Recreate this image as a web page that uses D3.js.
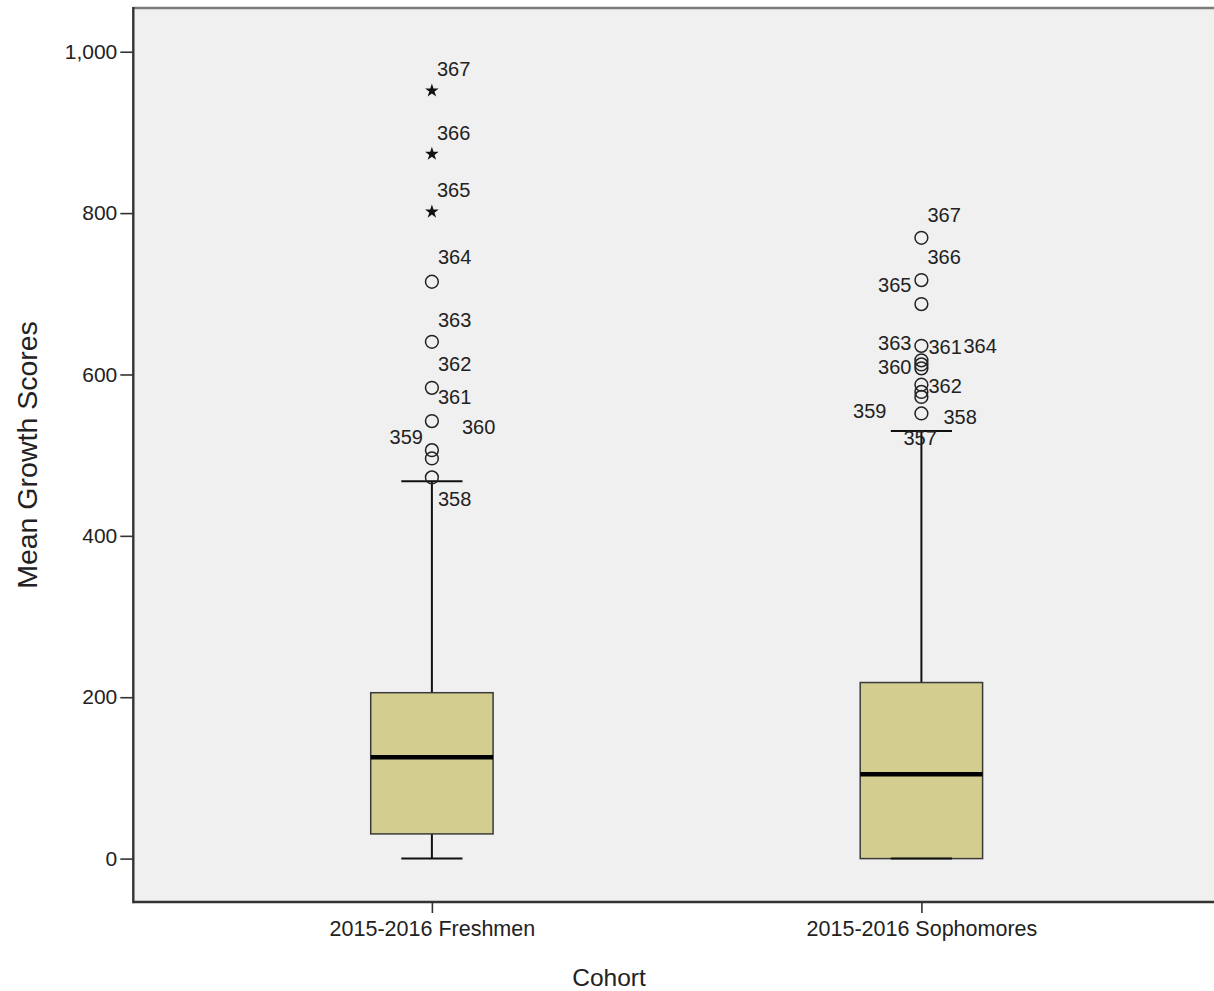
<!DOCTYPE html>
<html>
<head>
<meta charset="utf-8">
<script src="https://cdn.jsdelivr.net/npm/d3@7"></script>
<style>
  html, body { margin: 0; padding: 0; background: #ffffff; }
  svg { display: block; }
  text { font-family: "Liberation Sans", Arial, sans-serif; fill: #222; }
</style>
</head>
<body>
<svg id="chart" width="1214" height="991"></svg>
<script>
// ---- data ----
const categories = ["2015-2016 Freshmen", "2015-2016 Sophomores"];
const whiskerLow  = [0, 0];
const q1          = [30.6, 0];
const median      = [125.7, 104.5];
const q3          = [205.6, 218.2];
const whiskerHigh = [467.8, 529.8];

// outliers (circles) and extremes (stars) per category
const freshmenOutlierIds    = [358, 359, 360, 361, 362, 363, 364];
const freshmenOutlierValues = [472.4, 495.9, 506.2, 542.2, 583.4, 640.5, 714.9];
const freshmenExtremeIds    = [365, 366, 367];
const freshmenExtremeValues = [801.6, 873.2, 951.7];
const sophomoreOutlierIds    = [357, 358, 359, 360, 361, 362, 363, 364, 365, 366, 367];
const sophomoreOutlierValues = [551.7, 572.2, 578.4, 587.3, 607.6, 612.5, 617.5, 635.5, 687.2, 717.0, 769.4];
const sophomoreExtremeIds    = [];
const sophomoreExtremeValues = [];

const yTicks = [0, 200, 400, 600, 800, 1000];
const yTitle = "Mean Growth Scores";
const xTitle = "Cohort";

// label placement (pixel offsets from the point: dx, dy, anchor)
const freshmenLabelLayout = {
  358: [6, 21, "start"], 359: [-9, -22, "end"], 360: [30, -23, "start"],
  361: [6, -24, "start"], 362: [6, -24, "start"], 363: [6, -22, "start"],
  364: [6, -25, "start"], 365: [5, -22, "start"], 366: [5, -21, "start"],
  367: [5, -22, "start"]
};
const sophomoreLabelLayout = {
  357: [-18, 24, "start"], 358: [22, 20, "start"], 359: [-35, 19, "end"],
  360: [-10, -18, "end"], 361: [7, -22, "start"], 362: [7, 21, "start"],
  363: [-10, -18, "end"], 364: [42, 0, "start"], 365: [-10, -19, "end"],
  366: [6, -23, "start"], 367: [6, -23, "start"]
};

// ---- build ----
const svg = d3.select("#chart");
const W = 1214, H = 991;
const plot = { left: 133.3, top: 8, bottom: 902, right: 1220 };

const y = d3.scaleLinear().domain([-53.8, 1054.2]).range([plot.bottom, plot.top]);
const x = d3.scalePoint().domain(categories).range([plot.left, plot.right]).padding(0.61);

// plot background
svg.append("rect")
  .attr("x", plot.left).attr("y", plot.top)
  .attr("width", W - plot.left + 10).attr("height", plot.bottom - plot.top)
  .attr("fill", "#eff0ef");

// top frame line
svg.append("line")
  .attr("x1", plot.left).attr("x2", W + 10)
  .attr("y1", plot.top).attr("y2", plot.top)
  .attr("stroke", "#7c7c7c").attr("stroke-width", 2.5);

// y axis
const yAxis = d3.axisLeft(y).tickValues(yTicks).tickSize(13).tickPadding(3)
  .tickFormat(d3.format(","));
const gy = svg.append("g").attr("transform", `translate(${plot.left},0)`).call(yAxis);
gy.select(".domain").remove();
gy.selectAll(".tick line").attr("stroke", "#333").attr("stroke-width", 1.6);
gy.selectAll(".tick text").attr("font-size", 21).attr("fill", "#222")
  .style("font-family", "'Liberation Sans', Arial, sans-serif");

// x axis
const xAxis = d3.axisBottom(x).tickSize(11).tickPadding(8);
const gx = svg.append("g").attr("transform", `translate(0,${plot.bottom})`).call(xAxis);
gx.select(".domain").remove();
gx.selectAll(".tick line").attr("stroke", "#333").attr("stroke-width", 1.6);
gx.selectAll(".tick text").attr("font-size", 21.5).attr("fill", "#222")
  .style("font-family", "'Liberation Sans', Arial, sans-serif");

// frame lines (left and bottom)
svg.append("line")
  .attr("x1", plot.left).attr("x2", plot.left)
  .attr("y1", plot.top - 1).attr("y2", plot.bottom + 1.2)
  .attr("stroke", "#333").attr("stroke-width", 2.4);
svg.append("line")
  .attr("x1", plot.left).attr("x2", W + 10)
  .attr("y1", plot.bottom).attr("y2", plot.bottom)
  .attr("stroke", "#333").attr("stroke-width", 2.4);

// boxes
const boxW = 0.25 * x.step();
const capW = boxW / 2;
categories.forEach((c, i) => {
  const cx = x(c);
  const g = svg.append("g");
  // whiskers
  g.append("line").attr("x1", cx).attr("x2", cx)
    .attr("y1", y(q3[i])).attr("y2", y(whiskerHigh[i]))
    .attr("stroke", "#111").attr("stroke-width", 2);
  g.append("line").attr("x1", cx).attr("x2", cx)
    .attr("y1", y(q1[i])).attr("y2", y(whiskerLow[i]))
    .attr("stroke", "#111").attr("stroke-width", 2);
  // box
  g.append("rect")
    .attr("x", cx - boxW / 2).attr("width", boxW)
    .attr("y", y(q3[i])).attr("height", y(q1[i]) - y(q3[i]))
    .attr("fill", "#d3ce90").attr("stroke", "#3a3a3a").attr("stroke-width", 1.5);
  // caps
  [whiskerLow[i], whiskerHigh[i]].forEach(v => {
    g.append("line").attr("x1", cx - capW / 2).attr("x2", cx + capW / 2)
      .attr("y1", y(v)).attr("y2", y(v))
      .attr("stroke", "#111").attr("stroke-width", 2);
  });
  // median
  g.append("line").attr("x1", cx - boxW / 2).attr("x2", cx + boxW / 2)
    .attr("y1", y(median[i])).attr("y2", y(median[i]))
    .attr("stroke", "#000").attr("stroke-width", 4.5);
});

// outliers
function drawPoints(cat, ids, vals, kind, layout) {
  const cx = x(cat);
  const g = svg.append("g");
  ids.forEach((id, k) => {
    const py = y(vals[k]);
    if (kind === "circle") {
      g.append("circle").attr("cx", cx).attr("cy", py).attr("r", 6.4)
        .attr("fill", "none").attr("stroke", "#222").attr("stroke-width", 1.5);
    } else {
      g.append("path")
        .attr("d", d3.symbol().type(d3.symbolStar).size(58)())
        .attr("transform", `translate(${cx},${py})`)
        .attr("fill", "#111");
    }
    const L = layout[id];
    g.append("text")
      .attr("x", cx + L[0]).attr("y", py + L[1]).attr("dy", "0.36em")
      .attr("text-anchor", L[2]).attr("font-size", 20)
      .text(id);
  });
}
drawPoints(categories[0], freshmenOutlierIds, freshmenOutlierValues, "circle", freshmenLabelLayout);
drawPoints(categories[0], freshmenExtremeIds, freshmenExtremeValues, "star", freshmenLabelLayout);
drawPoints(categories[1], sophomoreOutlierIds, sophomoreOutlierValues, "circle", sophomoreLabelLayout);
drawPoints(categories[1], sophomoreExtremeIds, sophomoreExtremeValues, "star", sophomoreLabelLayout);

// axis titles
svg.append("text")
  .attr("transform", `translate(27,${(plot.top + plot.bottom) / 2}) rotate(-90)`)
  .attr("text-anchor", "middle").attr("dy", "0.36em")
  .attr("font-size", 28.5).text(yTitle);
svg.append("text")
  .attr("x", 609).attr("y", 977).attr("dy", "0.36em")
  .attr("text-anchor", "middle").attr("font-size", 24.5).text(xTitle);
</script>
</body>
</html>
